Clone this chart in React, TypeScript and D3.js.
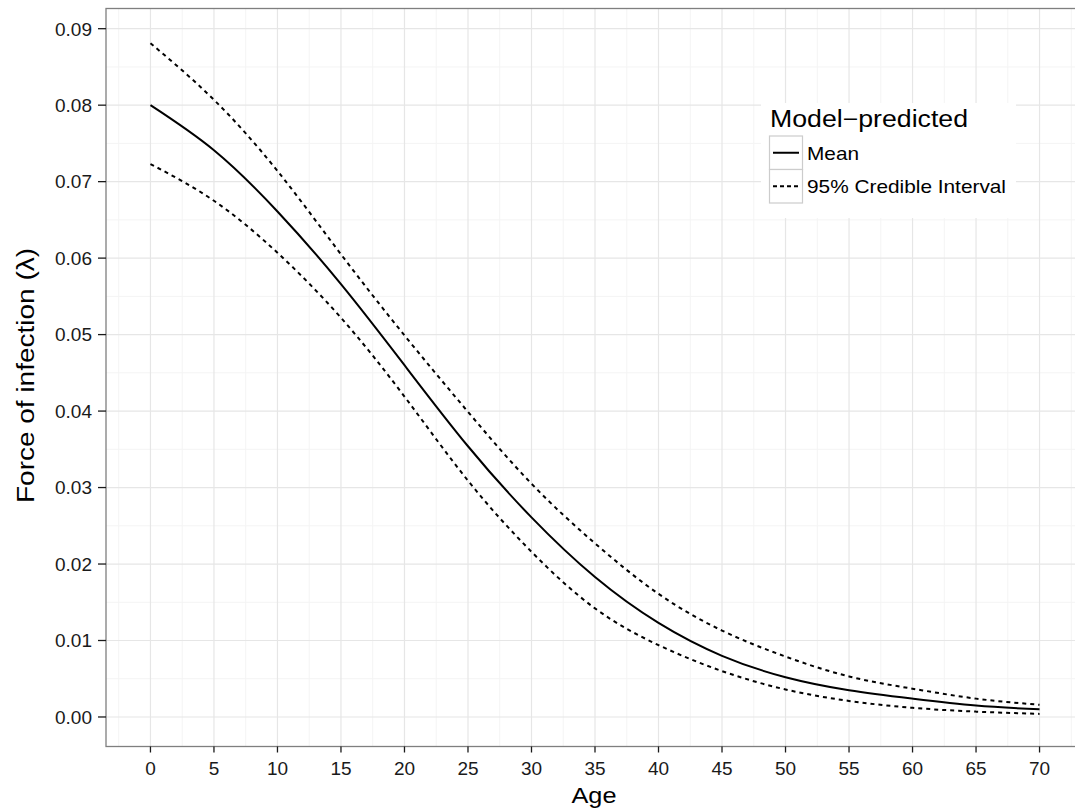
import React, { useEffect, useRef } from "react";
import * as d3 from "d3";

// Age grid (years)
const ages = [0, 5, 10, 15, 20, 25, 30, 35, 40, 45, 50, 55, 60, 65, 70];
// Model-predicted force of infection
const meanFoi = [0.0800, 0.0741, 0.0661, 0.0566, 0.0460, 0.0354, 0.0261, 0.0183, 0.0123, 0.0080, 0.0052, 0.0035, 0.0024, 0.0015, 0.0010];
const upperFoi = [0.0881, 0.0807, 0.0714, 0.0605, 0.0499, 0.0399, 0.0305, 0.0227, 0.0161, 0.0113, 0.0079, 0.0053, 0.0037, 0.0024, 0.0016];
const lowerFoi = [0.0723, 0.0675, 0.0607, 0.0522, 0.0419, 0.0309, 0.0216, 0.0142, 0.0094, 0.0060, 0.0036, 0.0021, 0.0012, 0.0007, 0.0004];

const xTicks = d3.range(0, 71, 5);
const yTicks = [0, 0.01, 0.02, 0.03, 0.04, 0.05, 0.06, 0.07, 0.08, 0.09];
const xMinor = d3.range(-2.5, 73, 5);
const yMinor = [0.005, 0.015, 0.025, 0.035, 0.045, 0.055, 0.065, 0.075, 0.085];

const xTitle = "Age";
const yTitle = "Force of infection (\u03bb)";
const legendTitle = "Model\u2212predicted";
const legendItems = [
  { label: "Mean", dash: null as string | null, width: 52 },
  { label: "95% Credible Interval", dash: "4 3", width: 199 },
];

const W = 1075;
const H = 810;
const FONT = "'Liberation Sans', Arial, Helvetica, sans-serif";

export default function App() {
  const ref = useRef<SVGSVGElement>(null);

  useEffect(() => {
    const svg = d3.select(ref.current);
    svg.selectAll("*").remove();

    const left = 106, top = 8.5, bottom = 746.5, right = 1084;
    const x = d3.scaleLinear().domain([-3.5, 73.5]).range([left, right]);
    const y = d3.scaleLinear().domain([-0.00386, 0.09264]).range([bottom, top]);

    svg.append("rect").attr("width", W).attr("height", H).attr("fill", "#fff");

    // grid
    const grid = svg.append("g");
    xMinor.forEach((v) =>
      grid.append("line").attr("x1", x(v)).attr("x2", x(v)).attr("y1", top).attr("y2", bottom)
        .attr("stroke", "#f4f4f4").attr("stroke-width", 1)
    );
    yMinor.forEach((v) =>
      grid.append("line").attr("x1", left).attr("x2", right).attr("y1", y(v)).attr("y2", y(v))
        .attr("stroke", "#f4f4f4").attr("stroke-width", 1)
    );
    xTicks.forEach((v) =>
      grid.append("line").attr("x1", x(v)).attr("x2", x(v)).attr("y1", top).attr("y2", bottom)
        .attr("stroke", "#e6e6e6").attr("stroke-width", 1.2)
    );
    yTicks.forEach((v) =>
      grid.append("line").attr("x1", left).attr("x2", right).attr("y1", y(v)).attr("y2", y(v))
        .attr("stroke", "#e6e6e6").attr("stroke-width", 1.2)
    );

    // curves
    const line = (vals: number[]) =>
      d3.line<number>()
        .x((_, i) => x(ages[i]))
        .y((d) => y(d))
        .curve(d3.curveNatural)(vals);

    const lines = svg.append("g").attr("fill", "none").attr("stroke", "#000");
    lines.append("path").attr("d", line(upperFoi)).attr("stroke-width", 2).attr("stroke-dasharray", "4 4");
    lines.append("path").attr("d", line(lowerFoi)).attr("stroke-width", 2).attr("stroke-dasharray", "4 4");
    lines.append("path").attr("d", line(meanFoi)).attr("stroke-width", 2);

    // panel border
    svg.append("rect").attr("x", left).attr("y", top).attr("width", right - left).attr("height", bottom - top)
      .attr("fill", "none").attr("stroke", "#7f7f7f").attr("stroke-width", 1.3);

    // axes
    const ax = svg.append("g").attr("font-family", FONT).attr("fill", "#1a1a1a");
    xTicks.forEach((v) => {
      ax.append("line").attr("x1", x(v)).attr("x2", x(v)).attr("y1", bottom).attr("y2", bottom + 6)
        .attr("stroke", "#1a1a1a").attr("stroke-width", 1.3);
      ax.append("text").attr("x", x(v)).attr("y", bottom + 28.5).attr("text-anchor", "middle")
        .attr("font-size", 19).text(String(v));
    });
    yTicks.forEach((v) => {
      ax.append("line").attr("x1", left - 8).attr("x2", left).attr("y1", y(v)).attr("y2", y(v))
        .attr("stroke", "#1a1a1a").attr("stroke-width", 1.3);
      ax.append("text").attr("x", left - 14).attr("y", y(v)).attr("dy", "0.36em").attr("text-anchor", "end")
        .attr("font-size", 19).text(d3.format(".2f")(v));
    });

    ax.append("text").attr("x", 594).attr("y", 802.5).attr("text-anchor", "middle")
      .attr("font-size", 22).attr("fill", "#000")
      .attr("textLength", 45).attr("lengthAdjust", "spacingAndGlyphs").text(xTitle);
    ax.append("text").attr("transform", "translate(33.5, 375.5) rotate(-90)")
      .attr("text-anchor", "middle").attr("font-size", 23).attr("fill", "#000")
      .attr("textLength", 255).attr("lengthAdjust", "spacingAndGlyphs").text(yTitle);

    // legend
    const lg = svg.append("g").attr("font-family", FONT);
    lg.append("rect").attr("x", 761).attr("y", 103).attr("width", 255).attr("height", 115).attr("fill", "#fff");
    lg.append("text").attr("x", 770).attr("y", 127).attr("font-size", 23).attr("fill", "#000")
      .attr("textLength", 198).attr("lengthAdjust", "spacingAndGlyphs").text(legendTitle);
    legendItems.forEach((it, i) => {
      const ky = 136 + i * 33.5;
      lg.append("rect").attr("x", 769.5).attr("y", ky).attr("width", 33).attr("height", 33.5)
        .attr("fill", "#fff").attr("stroke", "#cccccc").attr("stroke-width", 1.2);
      const l = lg.append("line").attr("x1", 773).attr("x2", 799).attr("y1", ky + 16.75).attr("y2", ky + 16.75)
        .attr("stroke", "#000").attr("stroke-width", 2);
      if (it.dash) l.attr("stroke-dasharray", it.dash);
      lg.append("text").attr("x", 807).attr("y", ky + 16.75).attr("dy", "0.36em").attr("font-size", 19)
        .attr("fill", "#000").attr("textLength", it.width).attr("lengthAdjust", "spacingAndGlyphs")
        .text(it.label);
    });
  }, []);

  return (
    <svg ref={ref} width={W} height={H}
      style={{ position: "absolute", left: 0, top: 0, display: "block" }} />
  );
}
